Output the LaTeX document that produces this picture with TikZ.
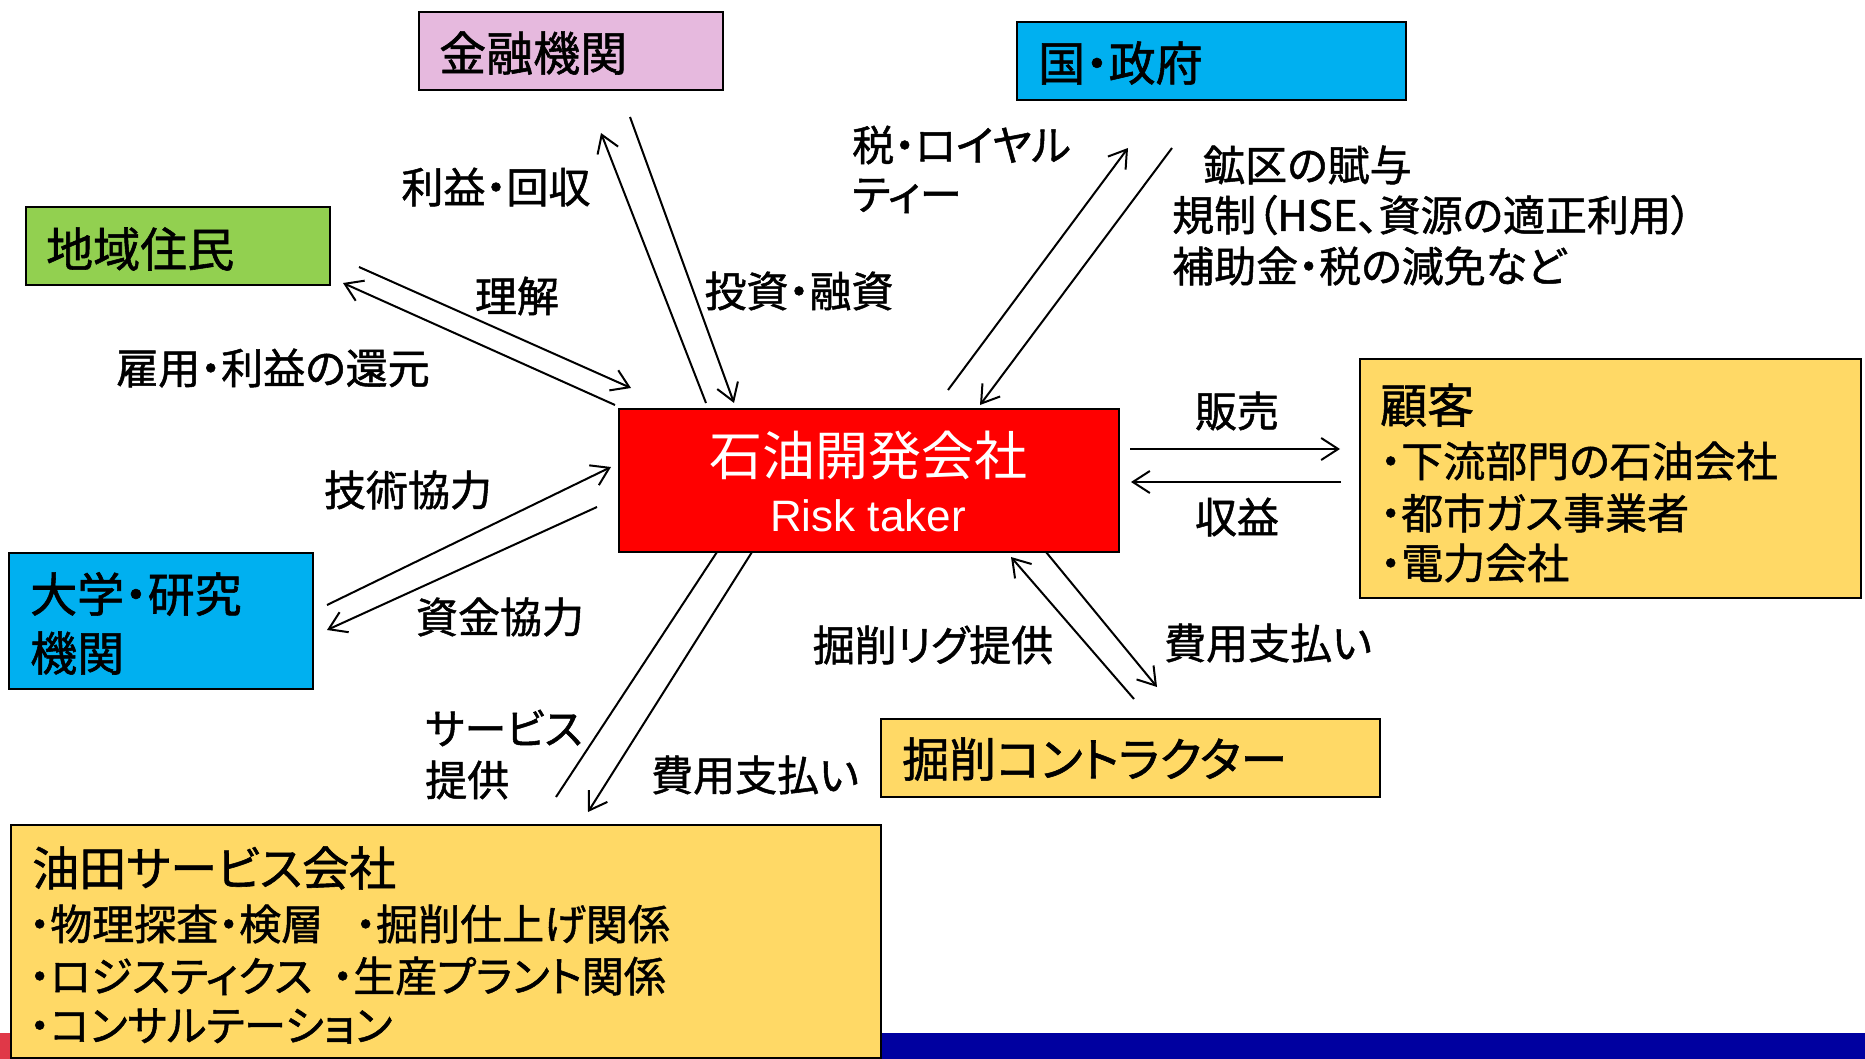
\documentclass[tikz,border=0pt]{standalone}
\usepackage{fontspec}
\setmainfont{Noto Sans CJK JP}[RawFeature={+palt},FakeBold=1.2]
\newfontfamily\lightcjk{Noto Sans CJK JP}[RawFeature={+palt}]
\newfontfamily\latinsans{Liberation Sans}
\usetikzlibrary{arrows.meta}
\definecolor{pinkbox}{HTML}{E6B9DE}
\definecolor{cyanbox}{HTML}{00B0F0}
\definecolor{greenbox}{HTML}{92D050}
\definecolor{yellowbox}{HTML}{FFD966}
\definecolor{redbox}{HTML}{FF0000}
\definecolor{bandblue}{HTML}{0000A0}
\definecolor{bandred}{HTML}{E03848}
\tikzset{
  box/.style={draw=black, line width=2pt, inner sep=0pt, anchor=north west},
  ttl/.style={font=\fontsize{47}{56}\selectfont, anchor=west, inner sep=0pt},
  lbl/.style={font=\fontsize{42}{50}\selectfont, anchor=west, inner sep=0pt},
  lblc/.style={font=\fontsize{42}{50}\selectfont, anchor=center, inner sep=0pt},
  flow/.style={line width=2pt, -{Straight Barb[length=17pt,width=22pt,line width=2pt]}},
  plainflow/.style={line width=2pt},
}
\begin{document}
\begin{tikzpicture}[x=1pt,y=-1pt]
\useasboundingbox (0,0) rectangle (1865,1059);
\fill[white] (0,0) rectangle (1865,1059);
% bottom band
\fill[bandblue] (0,1033) rectangle (1865,1059);
\fill[bandred] (0,1033) rectangle (12,1059);

% boxes
\node[box, fill=pinkbox, minimum width=304pt, minimum height=78pt] (kinyu) at (418,11) {};
\node[box, fill=cyanbox, minimum width=389pt, minimum height=78pt] (kuni) at (1016,21) {};
\node[box, fill=greenbox, minimum width=304pt, minimum height=78pt] (chiiki) at (25,206) {};
\node[box, fill=cyanbox, minimum width=304pt, minimum height=136pt] (daigaku) at (8,552) {};
\node[box, fill=yellowbox, minimum width=501pt, minimum height=239pt] (kokyaku) at (1359,358) {};
\node[box, fill=yellowbox, minimum width=499pt, minimum height=78pt] (kussaku) at (880,718) {};
\node[box, fill=yellowbox, minimum width=870pt, minimum height=233pt] (yuden) at (10,824) {};
\node[box, fill=redbox, minimum width=500pt, minimum height=143pt] (oil) at (618,408) {};

% box titles
\node[ttl] (kinyuT) at (439,53) {金融機関};
\node[ttl] (kuniT) at (1038,63) {国・政府};
\node[ttl] (chiikiT) at (46,249) {地域住民};
\node[ttl] (daigakuT1) at (30,594) {大学・研究};
\node[ttl] (daigakuT2) at (30,653) {機関};
\node[ttl] (kokyakuT) at (1380,405) {顧客};
\node[lbl] (kokyakuB1) at (1380,461) {・下流部門の石油会社};
\node[lbl] (kokyakuB2) at (1380,513) {・都市ガス事業者};
\node[lbl] (kokyakuB3) at (1380,563) {・電力会社};
\node[ttl] (kussakuT) at (902,759) {掘削コントラクター};
\node[ttl] (yudenT) at (32,868) {油田サービス会社};
\node[lbl] (yudenB1) at (29,924) {・物理探査・検層\hspace{32pt}・掘削仕上げ関係};
\node[lbl] (yudenB2) at (29,976) {・ロジスティクス\hspace{20pt}・生産プラント関係};
\node[lbl] (yudenB3) at (29,1026) {・コンサルテーション};
\node[text=white, font=\lightcjk\fontsize{53}{60}\selectfont, inner sep=0pt] (oilT1) at (868,455) {石油開発会社};
\node[text=white, font=\latinsans\fontsize{44}{50}\selectfont, inner sep=0pt] (oilT2) at (868,516) {Risk taker};

% arrow end points
\coordinate (a1s) at (359,267); \coordinate (a1e) at (631,388);
\coordinate (a2s) at (615,405); \coordinate (a2e) at (343,283);
\coordinate (a3s) at (706,403); \coordinate (a3e) at (601,133);
\coordinate (a4s) at (630,117); \coordinate (a4e) at (734,403);
\coordinate (a5s) at (948,390); \coordinate (a5e) at (1128,148);
\coordinate (a6s) at (1172,148); \coordinate (a6e) at (980,405);
\coordinate (a7s) at (1130,449); \coordinate (a7e) at (1340,449);
\coordinate (a8s) at (1341,482); \coordinate (a8e) at (1131,482);
\coordinate (a9s) at (1134,699); \coordinate (a9e) at (1011,557);
\coordinate (a10s) at (1046,552); \coordinate (a10e) at (1157,687);
\coordinate (a11s) at (717,552); \coordinate (a11e) at (556,797);
\coordinate (a12s) at (752,552); \coordinate (a12e) at (588,812);
\coordinate (a13s) at (327,605); \coordinate (a13e) at (611,467);
\coordinate (a14s) at (597,507); \coordinate (a14e) at (327,630);

\draw[flow] (a1s) -- (a1e);
\draw[flow] (a2s) -- (a2e);
\draw[flow] (a3s) -- (a3e);
\draw[flow] (a4s) -- (a4e);
\draw[flow] (a5s) -- (a5e);
\draw[flow] (a6s) -- (a6e);
\draw[flow] (a7s) -- (a7e);
\draw[flow] (a8s) -- (a8e);
\draw[flow] (a9s) -- (a9e);
\draw[flow] (a10s) -- (a10e);
\draw[plainflow] (a11s) -- (a11e);
\draw[flow] (a12s) -- (a12e);
\draw[flow] (a13s) -- (a13e);
\draw[flow] (a14s) -- (a14e);

% connector labels
\node[lblc] (l3) at (496,187) {利益・回収};
\node[lblc] (l4) at (799,291) {投資・融資};
\node[lblc] (l1) at (517,296) {理解};
\node[lblc] (l2) at (273,368) {雇用・利益の還元};
\node[lbl] (l5a) at (852,145) {税・ロイヤル};
\node[lbl] (l5b) at (852,196) {ティー};
\node[lbl] (l6a) at (1203,165) {鉱区の賦与};
\node[lbl] (l6b) at (1172,215) {規制（HSE、資源の適正利用）};
\node[lbl] (l6c) at (1172,266) {補助金・税の減免など};
\node[lblc] (l7) at (1237,411) {販売};
\node[lblc] (l8) at (1237,517) {収益};
\node[lblc] (l13) at (408,490) {技術協力};
\node[lblc] (l14) at (500,617) {資金協力};
\node[lbl] (l11a) at (425,728) {サービス};
\node[lbl] (l11b) at (425,780) {提供};
\node[lblc] (l12) at (755,775) {費用支払い};
\node[lblc] (l9) at (933,645) {掘削リグ提供};
\node[lblc] (l10) at (1268,643) {費用支払い};
\end{tikzpicture}
\end{document}
